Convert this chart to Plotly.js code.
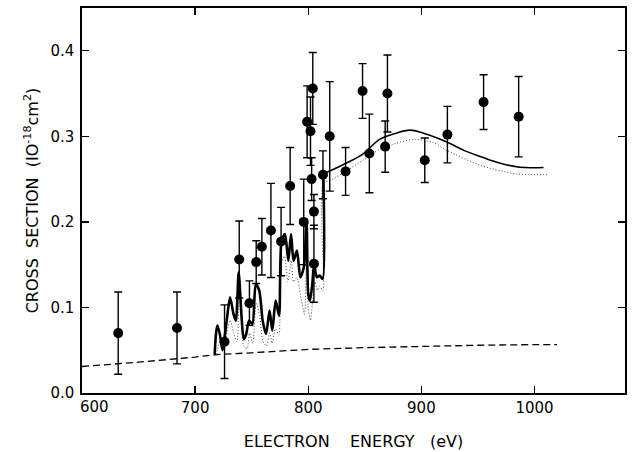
<!DOCTYPE html>
<html>
<head>
<meta charset="utf-8">
<script src="https://cdn.plot.ly/plotly-3.0.1.min.js"></script>
<style>html,body{margin:0;padding:0;background:#fff;}#chart{width:632px;height:452px;}</style>
</head>
<body>
<div id="chart"></div>
<script>
// Measured cross sections (electron energy in eV, cross section in 1e-18 cm^2)
var pointEnergy = [632, 684, 726, 739, 748, 754, 759, 767, 776, 784, 796, 799, 802, 803, 804, 805, 805, 813, 819, 833, 848, 854, 868, 870, 903, 923, 955, 986];
var pointValue  = [0.070, 0.076, 0.060, 0.156, 0.105, 0.153, 0.171, 0.190, 0.177, 0.242, 0.200, 0.317, 0.306, 0.250, 0.356, 0.212, 0.151, 0.255, 0.300, 0.259, 0.353, 0.280, 0.288, 0.350, 0.272, 0.302, 0.340, 0.323];
var pointError  = [0.048, 0.042, 0.043, 0.045, 0.026, 0.025, 0.033, 0.055, 0.040, 0.045, 0.050, 0.042, 0.040, 0.025, 0.042, 0.020, 0.045, 0.028, 0.064, 0.028, 0.032, 0.046, 0.030, 0.045, 0.026, 0.033, 0.032, 0.047];

// Dashed (background) curve
var dashEnergy = [600, 650, 700, 720, 750, 800, 850, 900, 950, 1000, 1020];
var dashValue  = [0.031, 0.036, 0.042, 0.045, 0.047, 0.051, 0.053, 0.0545, 0.0558, 0.0566, 0.0566];

// Solid curve: resonance region (thick) and smooth part (thin)
var solidResEnergy = [717.3, 718.5, 719.7, 721.8, 724.2, 727.9, 730.9, 733.9, 736, 738.5, 740.9, 743, 745.2, 747.6, 750.6, 753.6, 756.7, 759.7, 762.7, 765.8, 768.2, 771.2, 774.2, 776.4, 779.4, 782.4, 784.8, 787, 790, 793, 796.1, 798.5, 800, 801.5, 803.6, 805.2, 807.6, 810, 812.7, 813.3];
var solidResValue  = [0.0456, 0.070, 0.0787, 0.069, 0.050, 0.0846, 0.1118, 0.0924, 0.0846, 0.141, 0.0924, 0.063, 0.069, 0.0846, 0.0807, 0.1274, 0.1196, 0.0846, 0.069, 0.0963, 0.0729, 0.108, 0.0904, 0.178, 0.1859, 0.1547, 0.1859, 0.1547, 0.1664, 0.1352, 0.1469, 0.2014, 0.1157, 0.108, 0.1274, 0.1508, 0.1352, 0.1372, 0.1333, 0.256];
var solidEnergy = [813.3, 820, 832, 848, 863, 876, 890, 902, 923, 938, 954, 969, 987, 1008];
var solidValue  = [0.256, 0.260, 0.2677, 0.279, 0.2964, 0.303, 0.3073, 0.3035, 0.293, 0.2833, 0.2755, 0.2688, 0.2638, 0.2636];

// Dotted curve
var dotEnergy = [719, 722, 725, 728, 731, 734, 737, 739, 741, 743, 746, 748, 751, 754, 757, 760, 763, 766, 768, 771, 774, 776, 779, 782, 785, 787, 790, 793, 796.7, 798.5, 800, 802, 804, 806, 808, 810, 813, 813.3, 820, 832, 848, 863, 878, 893, 910, 923, 953, 984, 1011];
var dotValue  = [0.045, 0.060, 0.050, 0.070, 0.085, 0.070, 0.060, 0.120, 0.080, 0.055, 0.052, 0.070, 0.058, 0.105, 0.090, 0.060, 0.055, 0.070, 0.058, 0.075, 0.068, 0.150, 0.160, 0.130, 0.155, 0.130, 0.135, 0.115, 0.092, 0.170, 0.100, 0.085, 0.110, 0.130, 0.120, 0.125, 0.120, 0.245, 0.249, 0.258, 0.272, 0.2847, 0.292, 0.2965, 0.293, 0.2833, 0.2657, 0.256, 0.2554];

var xTickVals = [600, 700, 800, 900, 1000];
var xTickText = ['', '700', '800', '900', '1000'];
var firstXTick = '600';
var yTickVals = [0, 0.1, 0.2, 0.3, 0.4];
var yTickText = ['0.0', '0.1', '0.2', '0.3', '0.4'];

var black = '#000';
var traces = [
  {x: dashEnergy, y: dashValue, mode: 'lines', line: {color: black, width: 1.3, dash: '7px,4px'}, hoverinfo: 'skip'},
  {x: dotEnergy, y: dotValue, mode: 'lines', line: {color: '#444', width: 1, dash: '1px,2px', shape: 'spline', smoothing: 0.7}, hoverinfo: 'skip'},
  {x: solidResEnergy, y: solidResValue, mode: 'lines', line: {color: black, width: 2.6, shape: 'spline', smoothing: 0.7}, hoverinfo: 'skip'},
  {x: solidEnergy, y: solidValue, mode: 'lines', line: {color: black, width: 1.6, shape: 'spline'}, hoverinfo: 'skip'},
  {x: pointEnergy, y: pointValue, mode: 'markers', marker: {color: black, size: 10},
   error_y: {type: 'data', array: pointError, visible: true, color: black, thickness: 1.4, width: 4}}
];

var fam = 'DejaVu Sans, sans-serif';
var layout = {
  width: 632, height: 452,
  margin: {l: 82, r: 7, t: 8, b: 59},
  paper_bgcolor: '#fff', plot_bgcolor: '#fff',
  showlegend: false,
  font: {family: fam, size: 15, color: black},
  xaxis: {
    range: [600, 1080], tickvals: xTickVals, ticktext: xTickText,
    ticks: 'inside', ticklen: 7, tickwidth: 1.3, tickcolor: black,
    showline: true, linewidth: 1.6, linecolor: black, mirror: 'ticks',
    showgrid: false, zeroline: false, tickfont: {family: fam, size: 15, color: black},
    title: {text: 'ELECTRON\u00a0\u00a0\u00a0\u00a0ENERGY\u00a0\u00a0\u00a0(eV)', font: {family: fam, size: 16, color: black}, standoff: 20}
  },
  yaxis: {
    range: [0, 0.45], tickvals: yTickVals, ticktext: yTickText,
    ticks: 'inside', ticklen: 7, tickwidth: 1.3, tickcolor: black,
    showline: true, linewidth: 1.6, linecolor: black, mirror: 'ticks',
    showgrid: false, zeroline: false, tickfont: {family: fam, size: 15, color: black},
    ticklabelstandoff: 3,
    title: {text: 'CROSS\u00a0\u00a0SECTION\u00a0\u00a0(IO<sup>-18</sup>cm<sup>2</sup>)', font: {family: fam, size: 16, color: black}, standoff: 8}
  },
  annotations: [{
    x: xTickVals[0], xref: 'x', y: 0, yref: 'paper', text: firstXTick,
    showarrow: false, xanchor: 'center', yanchor: 'top', xshift: 12, yshift: -3,
    font: {family: fam, size: 15, color: black}
  }]
};

Plotly.newPlot('chart', traces, layout, {displayModeBar: false, staticPlot: true});
</script>
</body>
</html>
